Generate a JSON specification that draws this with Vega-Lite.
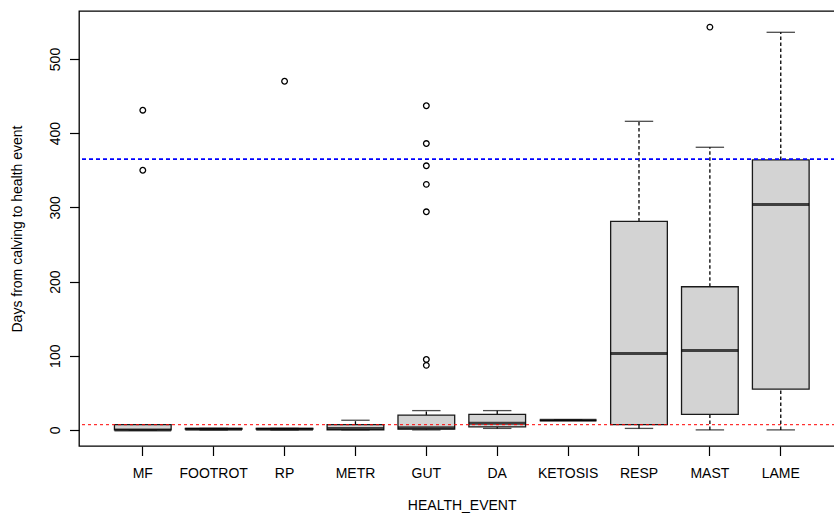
{
  "$schema": "https://vega.github.io/schema/vega-lite/v6.json",
  "width": 756,
  "height": 435,
  "autosize": {"type": "none"},
  "padding": {"left": 79, "top": 11, "right": -1, "bottom": 67},
  "background": "white",
  "config": {
    "view": {"stroke": "black", "strokeWidth": 1.3},
    "font": "Liberation Sans",
    "axis": {"grid": false, "domain": false, "tickColor": "black", "tickWidth": 1.2, "tickSize": 9.5, "labelColor": "black", "labelFontSize": 14, "titleColor": "black", "titleFontSize": 14, "titleFontWeight": "normal"}
  },
  "datasets": {
    "stats": [
      {"event": "MF", "min": 0, "q1": 0, "median": 0, "q3": 7, "max": 7},
      {"event": "FOOTROT", "min": 0, "q1": 1, "median": 1, "q3": 2, "max": 2},
      {"event": "RP", "min": 0, "q1": 1, "median": 1, "q3": 2, "max": 2},
      {"event": "METR", "min": 0, "q1": 0, "median": 2, "q3": 7, "max": 13},
      {"event": "GUT", "min": 0, "q1": 1, "median": 3, "q3": 20, "max": 26},
      {"event": "DA", "min": 2, "q1": 4, "median": 9, "q3": 21, "max": 26},
      {"event": "KETOSIS", "min": 13, "q1": 13, "median": 13, "q3": 13, "max": 13},
      {"event": "RESP", "min": 2, "q1": 7, "median": 103, "q3": 281, "max": 416},
      {"event": "MAST", "min": 0, "q1": 21, "median": 107, "q3": 193, "max": 381},
      {"event": "LAME", "min": 0, "q1": 55, "median": 304, "q3": 364, "max": 536}
    ],
    "outliers": [
      {"event": "MF", "days": 431},
      {"event": "MF", "days": 350},
      {"event": "RP", "days": 470},
      {"event": "GUT", "days": 437},
      {"event": "GUT", "days": 386},
      {"event": "GUT", "days": 356},
      {"event": "GUT", "days": 331},
      {"event": "GUT", "days": 294},
      {"event": "GUT", "days": 95},
      {"event": "GUT", "days": 87},
      {"event": "MAST", "days": 543}
    ]
  },
  "layer": [
    {
      "data": {"name": "stats"},
      "mark": {"type": "rule", "strokeDash": [3.5, 2.5], "strokeWidth": 1.3, "color": "black"},
      "encoding": {
        "x": {"field": "event", "type": "nominal", "title": "HEALTH_EVENT",
          "scale": {"domain": ["MF", "FOOTROT", "RP", "METR", "GUT", "DA", "KETOSIS", "RESP", "MAST", "LAME"], "paddingInner": 0.2, "paddingOuter": 0.4325, "align": 0.578},
          "axis": {"labelAngle": 0, "labelBaseline": "alphabetic", "labelPadding": 21.8, "titleX": 382.7, "titleY": 63.5, "titleAlign": "center", "titleBaseline": "alphabetic"}},
        "y": {"field": "q3", "type": "quantitative", "title": "Days from calving to health event",
          "scale": {"domain": [-21.72, 564.72], "nice": false, "zero": false},
          "axis": {"values": [0, 100, 200, 300, 400, 500], "labelAngle": 270, "labelAlign": "center", "labelBaseline": "alphabetic", "labelPadding": 10.2, "titleX": -58, "titleY": 217.5, "titleAngle": 270, "titleAlign": "center", "titleBaseline": "alphabetic"}},
        "y2": {"field": "max"}
      }
    },
    {
      "data": {"name": "stats"},
      "mark": {"type": "rule", "strokeDash": [3.5, 2.5], "strokeWidth": 1.3, "color": "black"},
      "encoding": {
        "x": {"field": "event", "type": "nominal", "title": "HEALTH_EVENT"},
        "y": {"field": "min", "type": "quantitative", "title": "Days from calving to health event"},
        "y2": {"field": "q1"}
      }
    },
    {
      "data": {"name": "stats"},
      "mark": {"type": "tick", "orient": "horizontal", "size": 28.4, "thickness": 1.3, "color": "black"},
      "encoding": {
        "x": {"field": "event", "type": "nominal", "title": "HEALTH_EVENT"},
        "y": {"field": "max", "type": "quantitative", "title": "Days from calving to health event"}
      }
    },
    {
      "data": {"name": "stats"},
      "mark": {"type": "tick", "orient": "horizontal", "size": 28.4, "thickness": 1.3, "color": "black"},
      "encoding": {
        "x": {"field": "event", "type": "nominal", "title": "HEALTH_EVENT"},
        "y": {"field": "min", "type": "quantitative", "title": "Days from calving to health event"}
      }
    },
    {
      "data": {"name": "stats"},
      "mark": {"type": "bar", "fill": "#D3D3D3", "stroke": "#1a1a1a", "strokeWidth": 1.3},
      "encoding": {
        "x": {"field": "event", "type": "nominal", "title": "HEALTH_EVENT"},
        "y": {"field": "q1", "type": "quantitative", "title": "Days from calving to health event"},
        "y2": {"field": "q3"}
      }
    },
    {
      "data": {"name": "stats"},
      "mark": {"type": "tick", "orient": "horizontal", "size": 56.7, "thickness": 3, "color": "black"},
      "encoding": {
        "x": {"field": "event", "type": "nominal", "title": "HEALTH_EVENT"},
        "y": {"field": "median", "type": "quantitative", "title": "Days from calving to health event"}
      }
    },
    {
      "data": {"name": "outliers"},
      "mark": {"type": "point", "shape": "circle", "filled": false, "size": 32, "strokeWidth": 1.3, "color": "black", "opacity": 1},
      "encoding": {
        "x": {"field": "event", "type": "nominal", "title": "HEALTH_EVENT"},
        "y": {"field": "days", "type": "quantitative", "title": "Days from calving to health event"}
      }
    },
    {
      "data": {"values": [{"days": 365}]},
      "mark": {"type": "rule", "color": "#0000FF", "strokeWidth": 1.6, "strokeDash": [4, 3]},
      "encoding": {
        "y": {"field": "days", "type": "quantitative", "title": "Days from calving to health event"}
      }
    },
    {
      "data": {"values": [{"days": 7}]},
      "mark": {"type": "rule", "color": "#FF0000", "strokeWidth": 1, "strokeDash": [3, 3]},
      "encoding": {
        "y": {"field": "days", "type": "quantitative", "title": "Days from calving to health event"}
      }
    }
  ]
}
